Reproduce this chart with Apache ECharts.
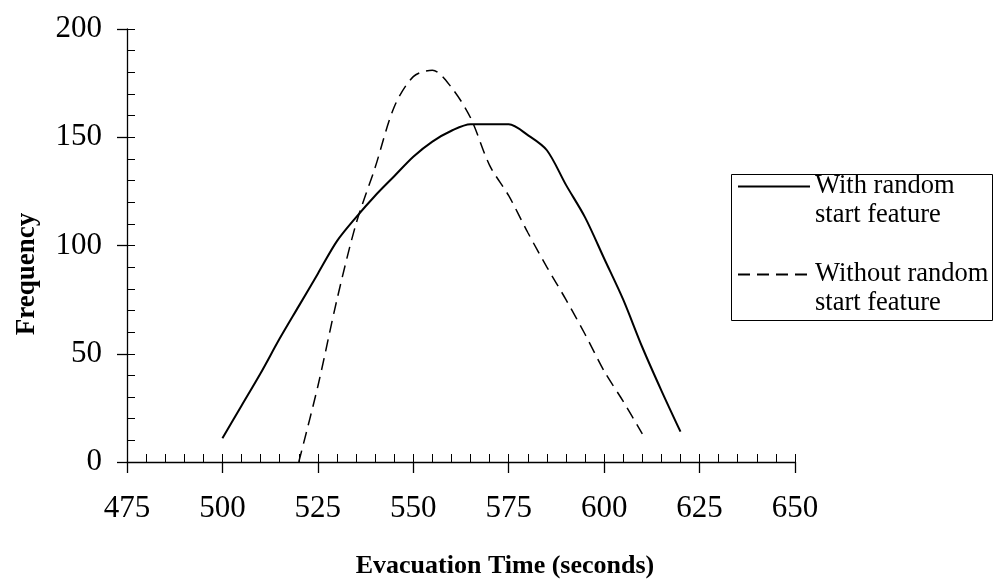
<!DOCTYPE html>
<html>
<head>
<meta charset="utf-8">
<script src="https://cdn.jsdelivr.net/npm/echarts@6/dist/echarts.min.js"></script>
<style>
  html, body { margin: 0; padding: 0; background: #fff; }
  #chart { width: 997px; height: 579px; }
</style>
</head>
<body>
<div id="chart"></div>
<script>
// Data
const timesWith = [500, 505, 510, 515, 520, 525, 530, 535, 540, 545, 550, 555, 560, 565, 570, 575, 580, 585, 590, 595, 600, 605, 610, 615, 620];
const freqWith  = [11, 26, 41, 57, 72, 87, 102, 113, 123, 132, 141, 148, 153, 156, 156, 156, 151, 144, 128, 113, 94, 75, 53, 33, 14];
const timesWithout = [520, 525, 530, 535, 540, 545, 550, 555, 560, 565, 570, 575, 580, 585, 590, 595, 600, 605, 610];
const freqWithout  = [0, 35, 75, 110, 136, 164, 178, 181, 173, 159, 137, 123, 106, 90, 75, 59, 42, 28, 13];
const seriesNames = ['With random\nstart feature', 'Without random\nstart feature'];
const xTitle = 'Evacuation Time (seconds)';
const yTitle = 'Frequency';

const FONT = '"Liberation Serif", "DejaVu Serif", serif';

const chart = echarts.init(document.getElementById('chart'), null, { renderer: 'canvas' });

const pairs = (xs, ys) => xs.map((x, i) => [x, ys[i]]);

const option = {
  animation: false,
  backgroundColor: '#fff',
  grid: { left: 127, right: 202, top: 29, bottom: 117, containLabel: false },
  xAxis: [
    {
      type: 'value', min: 475, max: 650, interval: 25, position: 'bottom',
      axisLine: { show: true, onZero: false, lineStyle: { color: '#000', width: 1.3 } },
      axisTick: { show: true, inside: false, length: 11, lineStyle: { color: '#000', width: 1.3 } },
      axisLabel: { color: '#000', fontFamily: FONT, fontSize: 31, margin: 31 },
      splitLine: { show: false }
    },
    {
      type: 'value', min: 475, max: 650, interval: 5, position: 'bottom', offset: 0,
      axisLine: { show: false, onZero: false },
      axisTick: { show: true, inside: true, length: 8, lineStyle: { color: '#000', width: 1 } },
      axisLabel: { show: false },
      splitLine: { show: false }
    }
  ],
  yAxis: [
    {
      type: 'value', min: 0, max: 200, interval: 50, position: 'left',
      axisLine: { show: true, onZero: false, lineStyle: { color: '#000', width: 1.3 } },
      axisTick: { show: true, inside: false, length: 10, lineStyle: { color: '#000', width: 1.3 } },
      axisLabel: { color: '#000', fontFamily: FONT, fontSize: 31, margin: 25 },
      splitLine: { show: false }
    },
    {
      type: 'value', min: 0, max: 200, interval: 10, position: 'left', offset: 0,
      axisLine: { show: false, onZero: false },
      axisTick: { show: true, inside: true, length: 8, lineStyle: { color: '#000', width: 1 } },
      axisLabel: { show: false },
      splitLine: { show: false }
    }
  ],
  legend: {
    orient: 'vertical',
    left: 737, top: 143,
    padding: 0,
    itemGap: 1,
    itemWidth: 72, itemHeight: 14,
    selectedMode: false,
    itemStyle: { color: 'rgba(0,0,0,0)', borderColor: 'rgba(0,0,0,0)', borderWidth: 0 },
    formatter: name => '\u00a0\n' + name,
    textStyle: { color: '#000', fontFamily: FONT, fontSize: 26.5, lineHeight: 29 },
    data: [seriesNames[0], seriesNames[1]]
  },
  graphic: [
    {
      type: 'rect', left: 729, top: 172, silent: true,
      shape: { width: 261, height: 146 },
      style: { fill: 'none', stroke: '#000', lineWidth: 1 }
    },
    {
      type: 'text', x: 27, y: 274, rotation: Math.PI / 2, silent: true,
      style: { text: yTitle, align: 'center', verticalAlign: 'middle', fill: '#000',
               font: 'bold 27px "Liberation Serif", serif' }
    },
    {
      type: 'text', x: 505, y: 566, silent: true,
      style: { text: xTitle, align: 'center', verticalAlign: 'middle', fill: '#000',
               font: 'bold 26px "Liberation Serif", serif' }
    }
  ],
  series: [
    {
      name: seriesNames[0], type: 'line', xAxisIndex: 0, yAxisIndex: 0,
      data: pairs(timesWith, freqWith), smooth: 0.3, showSymbol: false, symbol: 'none',
      lineStyle: { color: '#000', width: 2, type: 'solid' },
      itemStyle: { color: '#000' }
    },
    {
      name: seriesNames[1], type: 'line', xAxisIndex: 0, yAxisIndex: 0,
      data: pairs(timesWithout, freqWithout), smooth: 0.3, showSymbol: false, symbol: 'none',
      lineStyle: { color: '#000', width: 1.5, type: [12, 7] },
      itemStyle: { color: '#000' }
    }
  ]
};
chart.setOption(option);
</script>
</body>
</html>
